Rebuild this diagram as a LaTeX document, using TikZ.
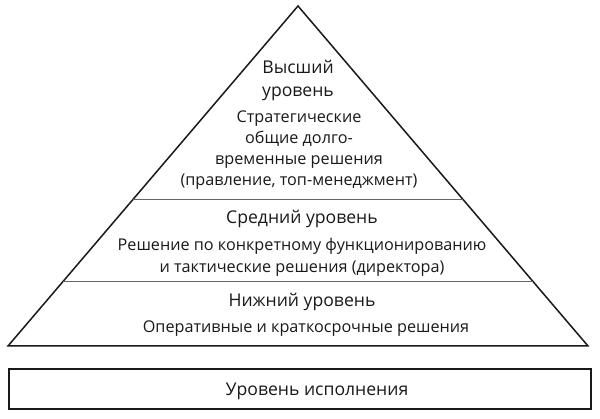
\documentclass[tikz,border=0pt]{standalone}
\usepackage{fontspec}
\setmainfont{Open Sans}
\begin{document}
\begin{tikzpicture}[x=1pt,y=-1pt,
  edge/.style={line width=1.5pt,draw=black!90},
  divider/.style={line width=0.9pt,draw=black!60},
  execbox/.style={line width=2pt,draw=black!90},
  title/.style={font=\fontsize{17.6}{21}\selectfont,text=black!90,align=center,anchor=base},
  body/.style={font=\fontsize{16.2}{21}\selectfont,text=black!90,align=center,anchor=base}]
\useasboundingbox (0,0) rectangle (600,419);
\coordinate (apex) at (298,6);
\coordinate (bl) at (8,346);
\coordinate (br) at (588,346);
\draw[edge,line join=miter] (bl) -- (apex) -- (br) -- cycle;
\path (apex) -- (bl) coordinate[pos=0.5676] (d1l) coordinate[pos=0.8088] (d2l);
\path (apex) -- (br) coordinate[pos=0.5676] (d1r) coordinate[pos=0.8088] (d2r);
\draw[divider] (d1l) -- (d1r);
\draw[divider] (d2l) -- (d2r);
\node[title] (t1a) at (298,74) {Высший};
\node[title] (t1b) at (298,97) {уровень};
\node[body] (b1a) at (299,123) {Стратегические};
\node[body] (b1b) at (299,144) {общие долго-};
\node[body] (b1c) at (299,165) {временные решения};
\node[body] (b1d) at (299,186) {(правление, топ-менеджмент)};
\node[title] (t2) at (302,224) {Средний уровень};
\node[body] (b2a) at (302,251) {Решение по конкретному функционированию};
\node[body] (b2b) at (302,273) {и тактические решения (директора)};
\node[title] (t3) at (302,307) {Нижний уровень};
\node[body] (b3) at (306,333) {Оперативные и краткосрочные решения};
\node[draw,execbox,minimum width=582pt,minimum height=40pt,inner sep=0pt] (exec) at (300,389) {};
\node[title] (et) at (317,396) {Уровень исполнения};
\end{tikzpicture}
\end{document}
